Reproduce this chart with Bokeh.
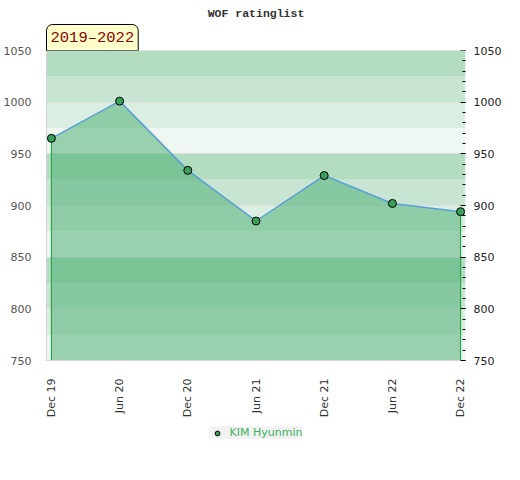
import math
from bokeh.plotting import figure
from bokeh.layouts import column
from bokeh.models import (Range1d, LinearAxis, FixedTicker, SingleIntervalTicker,
                          BoxAnnotation, Legend, LegendItem, Span, Title)
from bokeh.embed import file_html
from bokeh.resources import INLINE

# ---- data ----
title_text = "WOF ratinglist"
period = "2019\u20132022"
player = "KIM Hyunmin"
dates = ["Dec 19", "Jun 20", "Dec 20", "Jun 21", "Dec 21", "Jun 22", "Dec 22"]
ratings = [965, 1001, 934, 885, 929, 902, 894]
y_min, y_max = 750, 1050
band_step = 25
band_colors = ["#eef7f1", "#dbeee2", "#c8e5d3", "#b3dcc1"]

xs = list(range(len(dates)))
n = len(xs)

MARKER = dict(size=8, fill_color="#3a9f5b", line_color="black", line_width=1)

p = figure(width=504, height=420, output_backend="svg", toolbar_location=None,
           title=None,
           x_range=Range1d(-0.072, n - 1 + 0.072), y_range=Range1d(y_min, y_max),
           min_border_left=37, min_border_right=37, min_border_top=50,
           min_border_bottom=60)
p.outline_line_color = None
p.background_fill_color = "white"
p.border_fill_color = "white"

# period label (closest to the frame) and main title (outer)
period_title = Title(text=period, align="left", standoff=0, offset=0,
                     text_font="Liberation Mono", text_font_size="15.5px",
                     text_font_style="normal", text_color="#8b0000",
                     background_fill_color="#ffffcc", background_fill_alpha=1,
                     border_line_color="black", border_line_width=1,
                     padding=4, border_radius=(6, 6, 0, 0))
p.add_layout(period_title, "above")
main_title = Title(text=title_text, align="center", standoff=6,
                   text_font="Liberation Mono", text_font_style="bold",
                   text_font_size="11.5px", text_color="#333333")
p.add_layout(main_title, "above")

# background bands
for i, b in enumerate(range(y_min, y_max, band_step)):
    p.add_layout(BoxAnnotation(bottom=b, top=b + band_step,
                               fill_color=band_colors[i % len(band_colors)],
                               fill_alpha=1, line_color=None, level="image"))

p.xgrid.grid_line_color = None
p.ygrid.grid_line_color = "#dedede"
p.ygrid.grid_line_width = 1

# area + edges + line + markers
p.varea(x=xs, y1=[y_min] * n, y2=ratings, fill_color="#43ac6b", fill_alpha=0.5)
p.segment(x0=[xs[0], xs[-1]], y0=[y_min, y_min], x1=[xs[0], xs[-1]],
          y1=[ratings[0], ratings[-1]], line_color="#2ea44f", line_width=1.2)
p.line(xs, ratings, line_color="#5a9fd6", line_width=1.5)
p.scatter(xs, ratings, **MARKER)

# top border line
p.add_layout(Span(location=y_max, dimension="width", line_color="#d4d4d4",
                  line_width=1))

# left axis
lax = p.yaxis[0]
lax.ticker = SingleIntervalTicker(interval=50, num_minor_ticks=0)
lax.major_tick_line_color = None
lax.minor_tick_line_color = None
lax.axis_line_color = "#d4d4d4"
lax.major_label_text_font = "DejaVu Sans"
lax.major_label_text_font_size = "11px"
lax.major_label_text_color = "#555555"
lax.major_label_standoff = 9

# right axis
rax = LinearAxis(ticker=SingleIntervalTicker(interval=50, num_minor_ticks=5))
rax.major_tick_in = 5
rax.major_tick_out = 0
rax.minor_tick_in = 3
rax.minor_tick_out = 0
rax.major_tick_line_color = "black"
rax.minor_tick_line_color = "black"
rax.axis_line_color = None
rax.major_label_text_font = "DejaVu Sans"
rax.major_label_text_font_size = "11px"
rax.major_label_text_color = "#222222"
rax.major_label_standoff = 8
p.add_layout(rax, "right")

# x axis
xax = p.xaxis[0]
xax.ticker = FixedTicker(ticks=xs)
xax.major_label_overrides = {i: d for i, d in enumerate(dates)}
xax.major_label_orientation = math.pi / 2
xax.major_tick_line_color = None
xax.minor_tick_line_color = None
xax.axis_line_color = "#d4d4d4"
xax.major_label_text_font = "DejaVu Sans"
xax.major_label_text_font_size = "11px"
xax.major_label_text_color = "#333333"
xax.major_label_standoff = 12

# legend strip below the chart (series drawn out of view, only its legend shows)
lg = figure(width=504, height=50, output_backend="svg", toolbar_location=None,
            title=None, x_range=Range1d(0, 1), y_range=Range1d(0, 1),
            min_border=0)
lg.axis.visible = False
lg.grid.visible = False
lg.outline_line_color = None
lg.background_fill_color = "white"
lg.border_fill_color = "white"
r_lg = lg.scatter(xs, ratings, **MARKER)
legend = Legend(items=[LegendItem(label=player, renderers=[r_lg])],
                location="top_center", orientation="horizontal",
                background_fill_color="#f2f2f2", background_fill_alpha=1,
                border_line_color=None, label_text_color="#3cb064",
                label_text_font="DejaVu Sans", label_text_font_size="11px",
                padding=4, glyph_width=16, glyph_height=12, label_height=12,
                label_standoff=5, margin=6)
lg.add_layout(legend)

layout = column(p, lg, spacing=0)
open("out.html", "w").write(file_html(layout, INLINE))
